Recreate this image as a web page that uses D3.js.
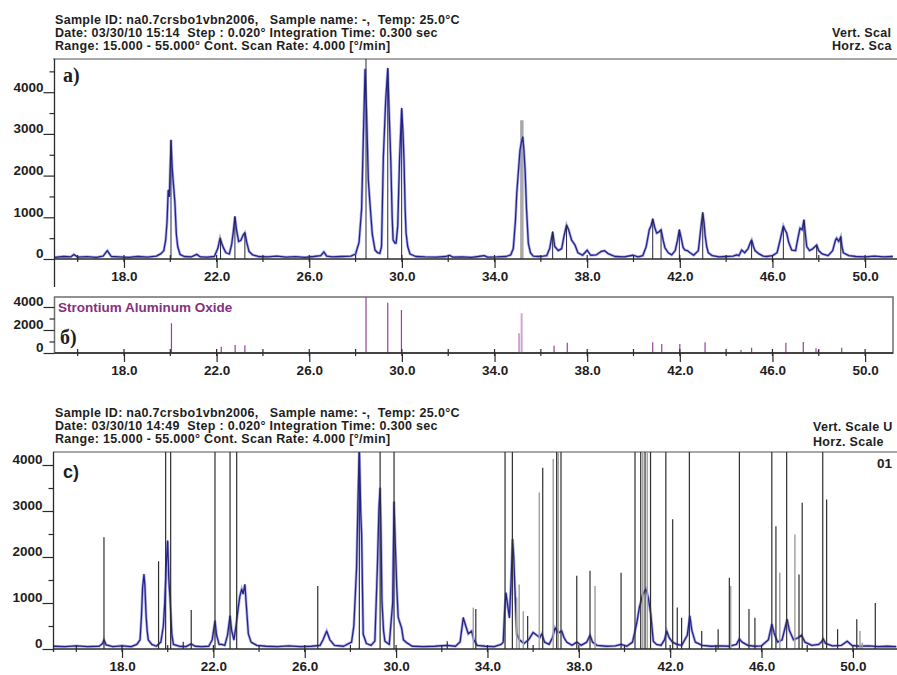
<!DOCTYPE html>
<html>
<head>
<meta charset="utf-8">
<script src="https://cdn.jsdelivr.net/npm/d3@7"></script>
<style>
body { margin: 0; background: #fff; }
svg text { font-family: "Liberation Sans", Arial, sans-serif; font-weight: bold; fill: #1e1e1e; font-size: 13.5px; white-space: pre; }
svg text.head { font-size: 12.5px; letter-spacing: 0.3px; }
</style>
</head>
<body>
<div id="chart"></div>
<script>
const W = 897, H = 675;

// header texts
const headerA = ["Sample ID: na0.7crsbo1vbn2006,   Sample name: -,  Temp: 25.0°C",
                 "Date: 03/30/10 15:14  Step : 0.020° Integration Time: 0.300 sec",
                 "Range: 15.000 - 55.000° Cont. Scan Rate: 4.000 [°/min]"];
const headerC = ["Sample ID: na0.7crsbo1vbn2006,   Sample name: -,  Temp: 25.0°C",
                 "Date: 03/30/10 14:49  Step : 0.020° Integration Time: 0.300 sec",
                 "Range: 15.000 - 55.000° Cont. Scan Rate: 4.000 [°/min]"];
const scaleA = ["Vert. Scal", "Horz. Sca"];
const scaleC = ["Vert. Scale U", "Horz. Scale"];

// x ticks (2theta)
const xTicksAll = [16, 18, 20, 22, 24, 26, 28, 30, 32, 34, 36, 38, 40, 42, 44, 46, 48, 50];
const xTicksLabeled = [18, 22, 26, 30, 34, 38, 42, 46, 50];

// scan a) measured pattern
const scanA_2theta = [15.0,15.4,15.7,15.84,16.0,16.4,16.8,17.1,17.28,17.45,17.8,18.2,18.6,19.0,19.4,19.6,19.72,19.8,19.86,19.91,19.96,20.03,20.08,20.12,20.2,20.26,20.32,20.42,20.6,20.9,21.14,21.3,21.6,21.9,22.05,22.15,22.22,22.3,22.4,22.55,22.65,22.72,22.79,22.86,22.95,23.05,23.15,23.22,23.3,23.4,23.55,23.8,24.2,24.6,25.0,25.4,25.8,26.2,26.5,26.63,26.75,27.0,27.4,27.8,28.0,28.15,28.26,28.33,28.41,28.47,28.55,28.62,28.72,28.84,28.95,29.05,29.12,29.2,29.3,29.39,29.45,29.52,29.58,29.62,29.7,29.75,29.82,29.9,29.99,30.05,30.09,30.14,30.18,30.25,30.35,30.6,31.0,31.5,31.9,32.05,32.2,32.6,33.0,33.3,33.55,33.7,34.1,34.5,34.7,34.81,34.9,34.96,35.03,35.1,35.16,35.22,35.27,35.32,35.38,35.46,35.55,35.67,35.9,36.1,36.25,36.38,36.51,36.6,36.75,36.9,37.0,37.11,37.2,37.33,37.47,37.6,37.8,38.0,38.15,38.4,38.6,38.75,38.9,39.2,39.6,39.98,40.2,40.4,40.55,40.68,40.76,40.83,40.92,41.0,41.1,41.19,41.28,41.36,41.5,41.65,41.8,41.9,41.98,42.06,42.14,42.22,42.33,42.44,42.6,42.8,42.92,42.99,43.05,43.09,43.16,43.23,43.4,43.7,44.0,44.3,44.46,44.55,44.67,44.8,44.95,45.05,45.1,45.18,45.25,45.4,45.6,45.75,46.0,46.2,46.35,46.47,46.54,46.61,46.7,46.83,47.0,47.1,47.19,47.28,47.36,47.42,47.48,47.6,47.75,47.91,48.0,48.15,48.4,48.6,48.72,48.77,48.86,48.95,49.0,49.06,49.3,49.6,50.0,50.4,50.8,51.2];
const scanA_counts = [40,60,50,110,45,55,40,70,200,60,50,40,60,45,70,130,200,450,900,1650,1500,2850,2200,1900,1340,600,300,110,60,50,110,50,45,60,250,500,380,260,150,120,350,650,1015,700,420,450,580,630,400,180,100,60,50,70,45,55,40,60,80,170,70,50,60,70,120,400,1200,2800,4550,3600,1900,1340,600,215,150,135,300,2450,3800,4570,3500,2370,1000,455,380,380,800,2400,3610,3000,2370,1200,620,300,120,60,50,45,60,90,45,50,40,60,80,45,50,60,100,250,900,1580,2100,2610,2800,2930,2600,2130,1200,375,150,70,60,70,80,250,650,300,200,250,550,815,700,450,340,150,90,210,90,100,180,200,130,60,50,90,50,80,300,700,800,960,750,620,650,700,450,265,150,100,200,450,700,500,280,215,200,150,90,200,800,1110,850,575,300,150,80,50,60,70,100,80,215,150,250,400,455,300,200,130,70,60,80,150,500,790,700,630,400,215,200,500,740,700,935,600,300,200,250,335,200,120,80,200,450,500,420,535,300,150,80,60,50,70,50,60];

// reference lines drawn over scan a)
const refA_2theta = [20.03,22.17,22.79,23.22,28.45,29.39,29.99,36.51,37.11,40.83,41.19,41.98,42.99,45.1,46.47,47.36,47.91,48.95];
const refA_counts = [2850,500,1015,630,5200,4570,3610,650,815,960,700,700,1110,455,790,935,335,535];
const greyA_2theta = [35.18];
const greyA_counts = [3330];

// b) Strontium Aluminum Oxide card
const refB_2theta = [20.05,22.2,22.8,23.22,28.45,29.39,29.98,36.57,37.14,40.83,41.22,42.0,43.09,44.64,45.1,46.58,47.33,47.88,47.98,48.99];
const refB_counts = [2580,550,700,670,5000,4370,3740,630,900,930,780,780,930,260,460,900,960,410,260,460];
const paleB_2theta = [35.06,35.17];
const paleB_counts = [1710,3450];

// scan c) measured pattern
const scanC_2theta = [15.0,15.5,16.0,16.5,17.0,17.15,17.21,17.3,17.6,18.0,18.4,18.65,18.79,18.85,18.9,18.96,19.0,19.05,19.1,19.15,19.3,19.5,19.7,19.81,19.87,19.93,20.0,20.05,20.1,20.18,20.25,20.5,20.8,21.03,21.2,21.5,21.8,21.95,22.07,22.14,22.25,22.36,22.5,22.62,22.73,22.8,22.9,22.99,23.09,23.16,23.24,23.3,23.38,23.45,23.53,23.65,23.9,24.3,24.8,25.3,25.8,26.3,26.67,26.8,26.96,27.1,27.3,27.7,28.05,28.15,28.27,28.33,28.39,28.45,28.49,28.56,28.7,28.9,29.07,29.18,29.25,29.3,29.34,29.38,29.45,29.51,29.7,29.85,29.91,29.97,30.03,30.09,30.14,30.24,30.32,30.43,30.7,31.2,31.7,32.24,32.6,32.8,32.94,33.05,33.16,33.31,33.4,33.55,33.9,34.3,34.6,34.69,34.75,34.81,34.9,34.96,35.03,35.1,35.15,35.2,35.28,35.4,35.6,35.8,36.0,36.16,36.3,36.38,36.5,36.7,36.85,36.96,37.1,37.25,37.35,37.47,37.7,37.91,38.1,38.35,38.49,38.6,38.8,39.2,39.6,39.85,40.1,40.35,40.46,40.55,40.65,40.8,40.94,41.04,41.15,41.26,41.4,41.6,41.75,41.85,41.95,42.1,42.3,42.5,42.75,42.86,42.95,43.1,43.4,43.8,44.2,44.6,44.9,45.03,45.15,45.4,45.7,46.0,46.3,46.45,46.55,46.7,46.9,47.05,47.12,47.22,47.4,47.6,47.75,47.9,48.2,48.5,48.62,48.7,48.8,49.1,49.5,49.75,49.95,50.3,50.7,51.1,51.5,51.9];
const scanC_counts = [60,50,70,50,60,120,200,90,50,70,50,100,200,700,1330,1620,1400,760,400,200,100,60,150,500,1000,1770,2350,1500,1120,320,100,60,50,110,60,50,60,200,610,300,100,100,80,300,720,400,200,500,900,1150,1300,1200,1400,900,330,150,80,60,50,70,50,60,80,200,390,200,80,60,150,500,1770,3200,4400,3000,2500,320,120,80,170,1770,3070,3500,2500,1040,400,170,100,1000,3200,2200,1330,700,610,460,200,150,60,50,60,80,60,150,680,500,330,390,200,80,60,50,100,150,800,1220,900,680,1400,2390,2000,1330,330,200,120,200,360,300,250,330,150,100,250,460,350,390,250,150,80,150,80,150,300,150,80,60,70,100,60,150,390,600,900,1190,1300,1120,760,170,100,80,200,390,250,150,100,80,300,720,400,150,80,60,70,60,100,220,150,80,60,70,200,540,350,150,200,500,645,400,200,245,300,150,80,100,150,220,120,70,80,170,80,60,70,50,60,50];

// c) reference lines: dark and grey sets
const refC_2theta = [17.21,19.6,19.91,20.13,20.68,21.03,22.07,22.73,23.02,26.57,28.39,29.3,29.91,32.24,33.49,34.77,35.09,35.76,36.42,37.03,37.22,37.91,38.49,39.85,40.46,40.71,40.9,41.14,41.81,42.11,42.31,42.5,42.84,43.38,44.1,44.59,45.03,45.45,45.71,46.45,46.63,47.1,47.64,47.78,48.68,48.85,49.33,50.17,50.98];
const refC_counts = [2430,1910,5000,5000,160,850,5000,5000,5000,1370,5000,5000,5000,170,870,5000,5000,720,3940,5000,5000,1590,1700,1660,5000,5000,5000,5000,5000,2820,900,680,5000,390,430,1550,5000,870,680,5000,2670,5000,1620,3180,5000,3250,430,645,1000];
const greyC_2theta = [33.38,35.28,35.39,35.57,36.27,36.88,37.1,38.71,40.8,41.0,44.65,46.8,47.46,50.31,50.41];
const greyC_counts = [900,1120,1400,820,3400,4130,5000,1370,5000,5000,1370,1660,2490,390,140];

const svg = d3.select("#chart").append("svg")
    .attr("width", W)
    .attr("height", H);

// scales
const xA = d3.scaleLinear().domain([15, 55]).range([54.5, 54.5 + 40 * 23.16]);
const xC = d3.scaleLinear().domain([15, 55]).range([53.5, 53.5 + 40 * 22.84]);
const yA = d3.scaleLinear().domain([0, 4000]).range([259, 259 - 4 * 41.7]);
const yB = d3.scaleLinear().domain([0, 4000]).range([353, 353 - 4 * 11.5]);
const yC = d3.scaleLinear().domain([0, 4000]).range([649, 649 - 4 * 46]);

function header(lines, x, y0, step) {
    lines.forEach((t, i) => {
        svg.append("text").attr("class", "head").attr("x", x).attr("y", y0 + i * step)
            .attr("xml:space", "preserve").text(t);
    });
}

function clip(id, x0, y0, x1, y1) {
    svg.append("clipPath").attr("id", id)
        .append("rect").attr("x", x0).attr("y", y0).attr("width", x1 - x0).attr("height", y1 - y0);
}

function yAxis(y, x0, major, minor) {
    let g = svg.append("g").attr("transform", `translate(${x0},0)`);
    g.append("g").call(d3.axisLeft(y).tickValues(major).tickSize(11).tickPadding(0)
            .tickSizeOuter(0).tickFormat(d3.format("d")))
        .call(a => a.select(".domain").remove())
        .call(a => a.selectAll("line").attr("stroke", "#2a2a2a").attr("stroke-width", 1.2))
        .call(a => a.selectAll("text").attr("dy", "-0.08em").attr("x", -11));
    g.append("g").call(d3.axisLeft(y).tickValues(minor).tickSize(5).tickFormat("").tickSizeOuter(0))
        .call(a => a.select(".domain").remove())
        .call(a => a.selectAll("line").attr("stroke", "#2a2a2a").attr("stroke-width", 1.2));
}

function xAxis(x, y0, xEnd) {
    let g = svg.append("g").attr("transform", `translate(0,${y0})`);
    g.append("line").attr("x1", x.range()[0]).attr("x2", xEnd)
        .attr("stroke", "#2a2a2a").attr("stroke-width", 1.3);
    g.append("g").call(d3.axisBottom(x).tickValues(xTicksLabeled).tickSize(9).tickPadding(3)
            .tickSizeOuter(0).tickFormat(d3.format(".1f")))
        .call(a => a.select(".domain").remove())
        .call(a => a.selectAll("line").attr("stroke", "#2a2a2a").attr("stroke-width", 1.2));
    g.selectAll("line.cross").data(xTicksAll).join("line")
        .attr("class", "cross")
        .attr("x1", d => x(d)).attr("x2", d => x(d))
        .attr("y1", -4).attr("y2", 3)
        .attr("stroke", "#2a2a2a").attr("stroke-width", 1.2);
}

function spectrum(clipId, x, y, th, ct) {
    let pts = d3.zip(th, ct);
    let line = d3.line().x(d => x(d[0])).y(d => y(d[1]));
    let g = svg.append("g").attr("clip-path", `url(#${clipId})`);
    g.append("path").datum(pts).attr("d", line)
        .attr("fill", "none").attr("stroke", "#9595e4").attr("stroke-width", 2.8).attr("opacity", 0.75);
    g.append("path").datum(pts).attr("d", line)
        .attr("fill", "none").attr("stroke", "#23238a").attr("stroke-width", 1.3).attr("stroke-linejoin", "round");
}

function sticks(clipId, x, y, th, ct, color, width) {
    svg.append("g").attr("clip-path", `url(#${clipId})`)
        .selectAll("line").data(d3.zip(th, ct)).join("line")
        .attr("x1", d => x(d[0])).attr("x2", d => x(d[0]))
        .attr("y1", y(0)).attr("y2", d => y(d[1]))
        .attr("stroke", color).attr("stroke-width", width);
}

// ---------------- panel a ----------------
header(headerA, 55, 24, 12.8);
header(scaleA, 832, 37, 12.8);
svg.append("line").attr("x1", 53).attr("x2", W).attr("y1", 59).attr("y2", 59)
    .attr("stroke", "#8a8a8a").attr("stroke-width", 1.6);
clip("clipA", 54.5, 59, W, 262);
sticks("clipA", xA, yA, greyA_2theta, greyA_counts, "#a9a9a9", 3.5);
spectrum("clipA", xA, yA, scanA_2theta, scanA_counts);
sticks("clipA", xA, yA, refA_2theta, refA_counts, "#26263a", 1);
svg.append("line").attr("x1", 54.5).attr("x2", 54.5).attr("y1", 59).attr("y2", 287)
    .attr("stroke", "#2a2a2a").attr("stroke-width", 1.3);
yAxis(yA, 54.5, [0, 1000, 2000, 3000, 4000], [500, 1500, 2500, 3500, 4500]);
xAxis(xA, 259, W);
svg.append("text").attr("x", 63).attr("y", 82)
    .style("font-family", "'Liberation Serif', 'Times New Roman', serif")
    .style("font-size", "20px").text("a)");

// ---------------- panel b ----------------
svg.append("rect").attr("x", 54.5).attr("y", 297).attr("width", 893 - 54.5).attr("height", 353 - 297)
    .attr("fill", "none").attr("stroke", "#6e6e6e").attr("stroke-width", 1.5);
clip("clipB", 54.5, 297, 893, 354);
sticks("clipB", xA, yB, paleB_2theta, paleB_counts, "#cfa6d2", 2);
sticks("clipB", xA, yB, refB_2theta, refB_counts, "#9a3f9c", 1.2);
yAxis(yB, 54.5, [0, 2000, 4000], [1000, 3000]);
xAxis(xA, 353, 893);
svg.append("text").attr("x", 58).attr("y", 312).style("fill", "#86307f")
    .text("Strontium Aluminum Oxide");
svg.append("text").attr("x", 60).attr("y", 344)
    .style("font-family", "'Liberation Serif', 'Times New Roman', serif")
    .style("font-size", "20px").text("б)");

// ---------------- panel c ----------------
header(headerC, 55, 417, 12.8);
header(scaleC, 813, 431, 15);
svg.append("text").attr("x", 877).attr("y", 468).text("01");
svg.append("line").attr("x1", 53).attr("x2", W).attr("y1", 452).attr("y2", 452)
    .attr("stroke", "#8a8a8a").attr("stroke-width", 1.6);
clip("clipC", 53.5, 452, W, 652);
spectrum("clipC", xC, yC, scanC_2theta, scanC_counts);
sticks("clipC", xC, yC, greyC_2theta, greyC_counts, "#a3a3a3", 1.5);
sticks("clipC", xC, yC, refC_2theta, refC_counts, "#2e2e2e", 1.2);
svg.append("line").attr("x1", 53.5).attr("x2", 53.5).attr("y1", 452).attr("y2", 652)
    .attr("stroke", "#2a2a2a").attr("stroke-width", 1.3);
yAxis(yC, 53.5, [0, 1000, 2000, 3000, 4000], [500, 1500, 2500, 3500]);
xAxis(xC, 649, W);
svg.append("text").attr("x", 63).attr("y", 478)
    .style("font-size", "18px").text("c)");
</script>
</body>
</html>
